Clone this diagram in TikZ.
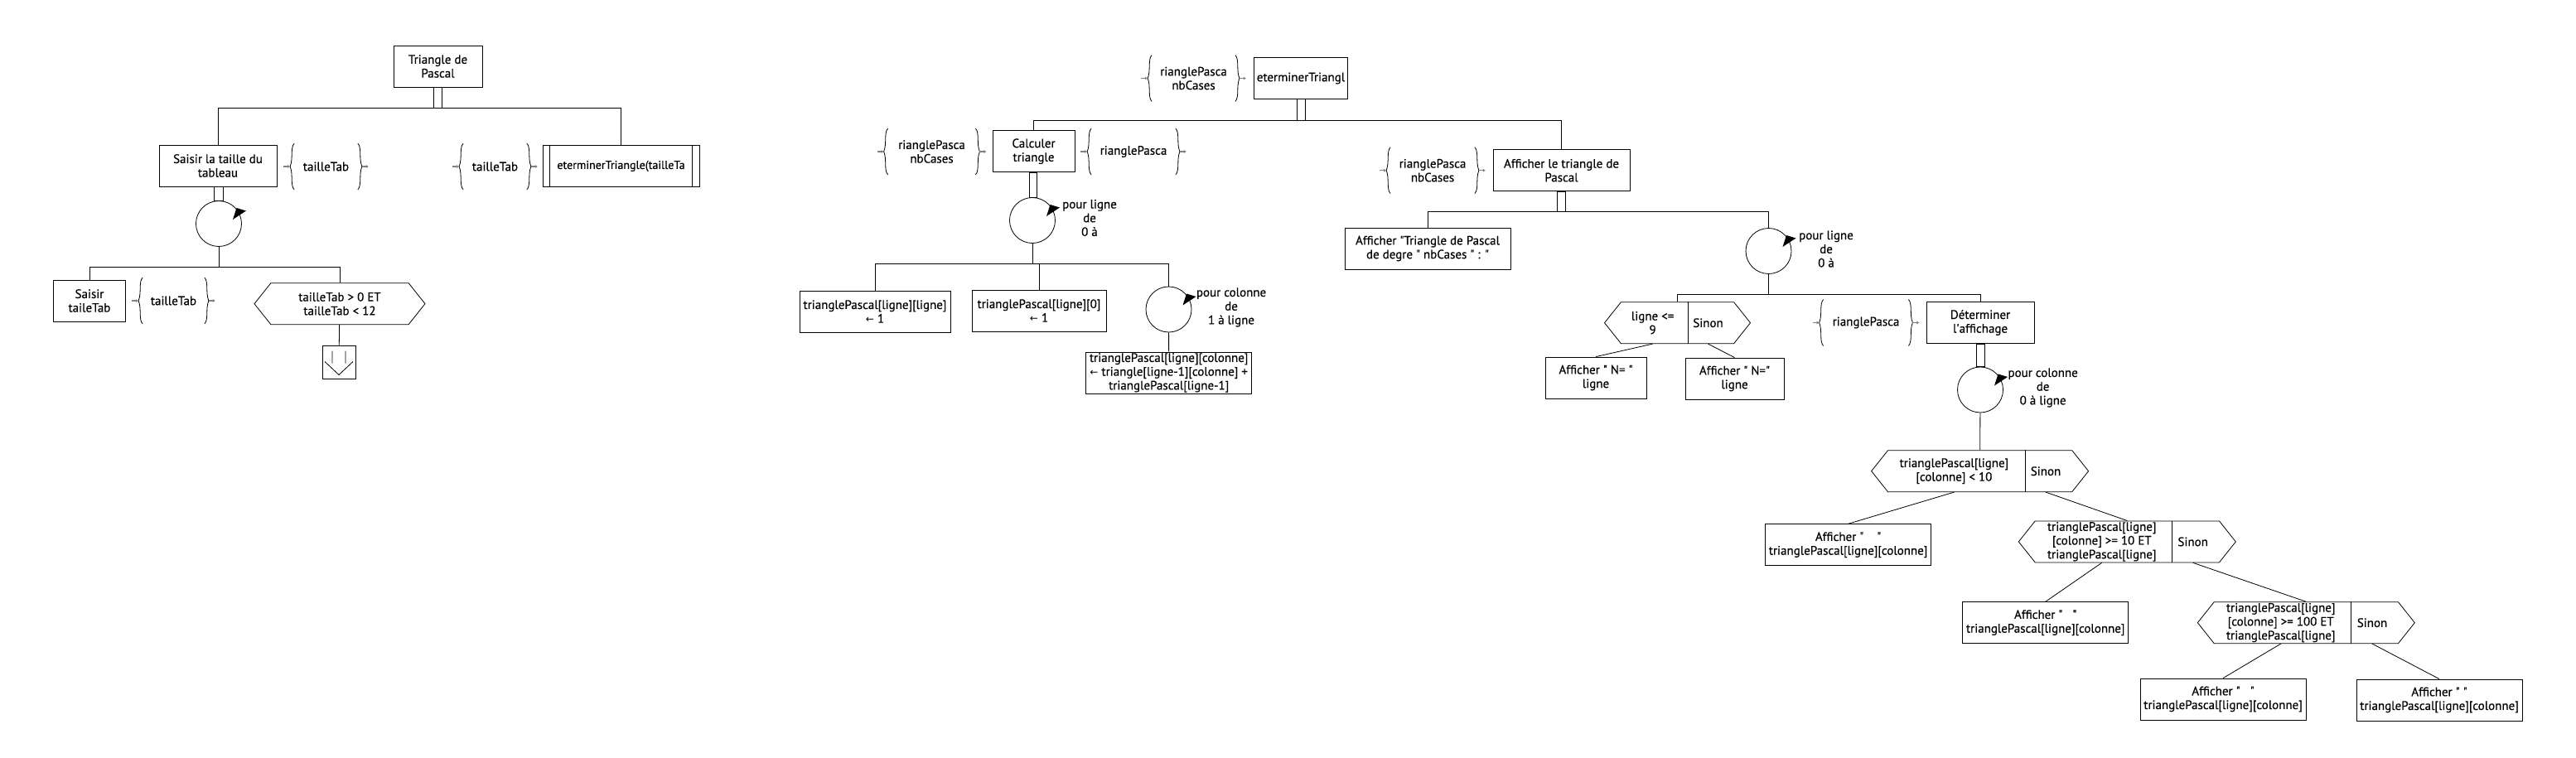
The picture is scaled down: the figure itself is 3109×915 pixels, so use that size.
\documentclass[tikz,border=0pt]{standalone}
\usepackage{fontspec}
\setmainfont{PT Sans}
\newfontfamily\fsfont{PT Sans}[FakeBold=0.4]
\newfontfamily\arrowfont{DejaVu Sans}
\usetikzlibrary{shapes.symbols,arrows.meta}

\newcommand\fs{\fsfont\fontsize{15}{16.7}\selectfont}
\newcommand\fleche{{\arrowfont\fontsize{12}{16.7}\selectfont ←}}

\begin{document}
\begin{tikzpicture}[x=1pt,y=-1pt,line width=0.8pt,
  every node/.style={font=\fs,align=center,inner sep=1pt},
  action/.style={draw,rectangle,minimum height=50pt},
  boucle/.style={draw,circle,minimum size=55pt,inner sep=0pt},
  test/.style={draw,signal,signal to=west and east,signal pointer angle=103,minimum height=50pt,inner sep=0pt},
  param/.style={minimum height=55pt},
  accol/.style={line width=0.8pt},
  bout/.style={gray,line width=1.4pt,-{Latex[length=3pt,width=4pt]}}]
\useasboundingbox (0,0) rectangle (3109,915);

% programme principal
\node[action,minimum width=107pt] (prog) at (528.5,80) {Triangle de\\Pascal};
\node[action,minimum width=142pt] (saisie) at (263,200) {Saisir la taille du\\tableau};
\node[param,minimum width=82pt] (pSaisie) at (393.5,201) {tailleTab};
\node[param,minimum width=82pt] (pDet) at (597.5,201) {tailleTab};
\node[action,minimum width=189pt,font=\fsfont\fontsize{14}{16.7}\selectfont] (det) at (749.5,200.5) {eterminerTriangle(tailleTa};
\draw ([xshift=9pt]det.north west) -- ([xshift=9pt]det.south west)
      ([xshift=-9pt]det.north east) -- ([xshift=-9pt]det.south east);
\coordinate (j1) at (528.5,130);
\draw ([xshift=-5pt]prog.south) rectangle ([xshift=5pt]j1);
\draw (saisie.north) -- (saisie.north |- j1) -- (det.north |- j1) -- (det.north);

% saisie controlee
\node[boucle] (bSaisie) at (264,270) {};
\draw ([xshift=-5pt]saisie.south) rectangle ([xshift=5pt]bSaisie.north);
\node[action,minimum width=87pt] (lire) at (108,363) {Saisir\\taileTab};
\node[param,minimum width=80pt] (pLire) at (209.5,363) {tailleTab};
\node[test,minimum width=206pt] (tSaisie) at (410,366.7) {tailleTab > 0 ET\\tailleTab < 12};
\node[draw,minimum size=40pt,inner sep=0pt] (fin) at (409,437.5) {};
\draw ([shift={(-8,-14)}]fin.center) -- ++(0,15) ([shift={(8,-14)}]fin.center) -- ++(0,15)
      ([shift={(-17,-1)}]fin.center) -- ++(17,16) -- ++(17,-16);
\coordinate (j2) at (264,322);
\draw (bSaisie) -- (j2);
\draw (lire.north) -- (lire.north |- j2) -- (tSaisie.north |- j2) -- (tSaisie.north);
\draw (tSaisie) -- (fin);

% determinerTriangle
\node[action,minimum width=113pt] (det2) at (1570,94.5) {eterminerTriangl};
\node[param,minimum width=106pt] (pDet2) at (1440.5,94.5) {rianglePasca\\nbCases};
\node[action,minimum width=99pt] (calc) at (1247.5,182.7) {Calculer\\triangle};
\node[action,minimum width=165pt] (aff) at (1884.5,205.7) {Afficher le triangle de\\Pascal};
\coordinate (j3) at (1570,145);
\draw ([xshift=-5pt]det2.south) rectangle ([xshift=5pt]j3);
\draw (calc.north) -- (calc.north |- j3) -- (aff.north |- j3) -- (aff.north);

% calcul du triangle
\node[param,minimum width=111pt] (pCalcE) at (1124.5,183) {rianglePasca\\nbCases};
\node[param,minimum width=107pt] (pCalcS) at (1368,183) {rianglePasca};
\node[boucle] (bLigne) at (1246,266) {};
\node (lLigne) at (1315,263) {pour ligne\\de\\0 à};
\draw ([xshift=-5pt]calc.south) rectangle ([xshift=5pt]bLigne.north);
\node[action,minimum width=182pt] (diag) at (1056,376) {trianglePascal[ligne][ligne]\\\fleche\ 1};
\node[action,minimum width=162pt] (bord) at (1254,375) {trianglePascal[ligne][0]\\\fleche\ 1};
\node[boucle] (bCol) at (1410.5,373.5) {};
\node (lCol) at (1486,371) {pour colonne\\de\\1 à ligne};
\node[action,minimum width=200pt,inner sep=0pt] (somme) at (1410.7,450) {trianglePascal[ligne][colonne]\\\fleche\ triangle[ligne-1][colonne] +\\trianglePascal[ligne-1]};
\coordinate (j4) at (1246,318);
\draw (bLigne) -- (j4);
\draw (diag.north) -- (diag.north |- j4) -- (bCol.north |- j4) -- (bCol.north);
\draw (bord.north) -- (bord.north |- j4);
\draw (bCol) -- (somme);

% affichage
\node[param,minimum width=107pt] (pAff) at (1729,205.7) {rianglePasca\\nbCases};
\node[action,minimum width=200pt] (titre) at (1723,300) {Afficher "Triangle de Pascal\\de degre " nbCases " : "};
\node[boucle] (bAff) at (2134.5,303) {};
\node (lAff) at (2204,300.5) {pour ligne\\de\\0 à};
\coordinate (j5) at (1884.5,255.7);
\draw ([xshift=-5pt]aff.south) rectangle ([xshift=5pt]j5);
\draw (titre.north) -- (titre.north |- j5) -- (bAff.north |- j5) -- (bAff.north);
\node[test,minimum width=176pt] (tN) at (2024.5,389.7) {};
\node (tNo) at (1994.6,389.7) {ligne <=\\9};
\node (tNn) at (2061.5,389.7) {Sinon};
\draw ([xshift=12.5pt]tN.north) -- ([xshift=12.5pt]tN.south);
\node[action,minimum width=122pt] (affN1) at (1926,456) {Afficher " N= "\\ligne};
\node[action,minimum width=119pt] (affN2) at (2093.5,457) {Afficher " N="\\ligne};
\draw (tNo |- tN.south) -- (affN1.north);
\draw (tNn |- tN.south) -- (affN2.north);
\node[param,minimum width=108pt] (pDetAff) at (2252,389.5) {rianglePasca};
\node[action,minimum width=130pt] (detAff) at (2390,389.5) {Déterminer\\l\textquotesingle affichage};
\coordinate (j6) at (2134.5,355);
\draw (bAff) -- (j6);
\draw (tN.north) -- (tN.north |- j6) -- (detAff.north |- j6) -- (detAff.north);

% determiner l'affichage
\node[boucle] (bCol2) at (2390,470.5) {};
\node (lCol2) at (2465.6,468) {pour colonne\\de\\0 à ligne};
\draw ([xshift=-5pt]detAff.south) rectangle ([xshift=5pt]bCol2.north);
\node[test,minimum width=262pt] (t10) at (2389.6,568.7) {};
\node (t10o) at (2358.4,568.7) {trianglePascal[ligne]\\{}[colonne] < 10};
\node (t10n) at (2469,568.7) {Sinon};
\draw ([xshift=54.4pt]t10.north) -- ([xshift=54.4pt]t10.south);
\draw (bCol2) -- (t10);
\node[action,minimum width=200pt] (aff10) at (2230.6,657.7) {Afficher "\ \ \ \ "\\trianglePascal[ligne][colonne]};
\node[test,minimum width=262pt] (t100) at (2567.3,653.9) {};
\node (t100o) at (2536.7,653.9) {trianglePascal[ligne]\\{}[colonne] >= 10 ET\\trianglePascal[ligne]};
\node (t100n) at (2646.6,653.9) {Sinon};
\draw ([xshift=54.5pt]t100.north) -- ([xshift=54.5pt]t100.south);
\node[action,minimum width=200pt] (aff100) at (2468.7,751.7) {Afficher "\ \ \ "\\trianglePascal[ligne][colonne]};
\node[test,minimum width=262pt] (t1000) at (2783.3,751.7) {};
\node (t1000o) at (2752.7,751.7) {trianglePascal[ligne]\\{}[colonne] >= 100 ET\\trianglePascal[ligne]};
\node (t1000n) at (2863,751.7) {Sinon};
\draw ([xshift=54.4pt]t1000.north) -- ([xshift=54.4pt]t1000.south);
\node[action,minimum width=200pt] (aff1000) at (2683,844) {Afficher "\ \ \ "\\trianglePascal[ligne][colonne]};
\node[action,minimum width=200pt] (affPlus) at (2944,845) {Afficher "\ "\\trianglePascal[ligne][colonne]};
\draw (t10o |- t10.south) -- (aff10.north);
\draw (t10n |- t10.south) -- (t100.north);
\draw (t100o |- t100.south) -- (aff100.north);
\draw (t100n |- t100.south) -- (t1000.north);
\draw (t1000o |- t1000.south) -- (aff1000.north);
\draw (t1000n |- t1000.south) -- (affPlus.north);

% accolades des parametres
\foreach \p in {pSaisie,pDet,pLire,pDet2,pCalcE,pCalcS,pAff,pDetAff} {
  \draw[accol] ([xshift=3pt]\p.north west) .. controls +(-5,5) and +(4,-9) .. ([xshift=-2pt]\p.west)
               .. controls +(4,9) and +(-5,-5) .. ([xshift=3pt]\p.south west);
  \draw[accol] ([xshift=-3pt]\p.north east) .. controls +(5,5) and +(-4,-9) .. ([xshift=2pt]\p.east)
               .. controls +(-4,9) and +(5,-5) .. ([xshift=-3pt]\p.south east);
  \draw[bout] ([xshift=-10pt]\p.west) -- ([xshift=-2pt]\p.west);
  \draw[bout] ([xshift=2pt]\p.east) -- ([xshift=10pt]\p.east);
}
% fleches des boucles
\foreach \b in {bSaisie,bLigne,bCol,bAff,bCol2}
  \fill ([shift={(17,-5)}]\b.center) -- ([shift={(21.5,-19)}]\b.center) -- ([shift={(33,-15.5)}]\b.center) -- cycle;
\end{tikzpicture}
\end{document}
